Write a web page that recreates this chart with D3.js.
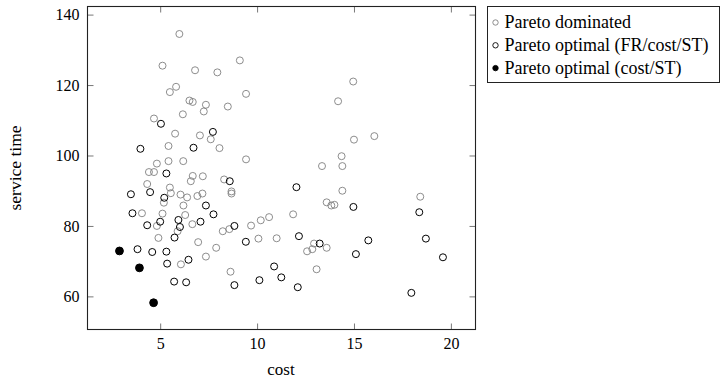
<!DOCTYPE html>
<html>
<head>
<meta charset="utf-8">
<script src="https://cdn.jsdelivr.net/npm/d3@7"></script>
<style>
  body { margin: 0; background: #fff; }
  text { font-family: "Liberation Serif", "DejaVu Serif", serif; fill: #000; }
</style>
</head>
<body>
<svg id="chart" width="727" height="381"></svg>
<script>
// Pareto dominated solutions [cost, service time]
const dominated = [
  [5.99, 134.5], [5.12, 125.5], [6.80, 124.2], [7.95, 123.6], [9.11, 127.0],
  [9.43, 117.5], [5.82, 119.5], [5.50, 118.0], [6.51, 115.6], [6.68, 115.2],
  [7.36, 114.4], [7.25, 112.5], [8.49, 113.9], [6.17, 111.7], [4.68, 110.5],
  [5.77, 106.2], [7.05, 105.7], [7.61, 104.6], [8.06, 102.1], [9.43, 98.9],
  [5.43, 102.7], [6.19, 98.4], [5.43, 98.4], [4.83, 97.7], [4.42, 95.3],
  [4.68, 95.3], [6.58, 92.7], [6.68, 94.2], [7.20, 94.1], [8.30, 93.2],
  [4.33, 91.9], [5.50, 90.9], [14.96, 121.0], [14.18, 115.4], [15.00, 104.5],
  [16.05, 105.5], [14.36, 99.8], [14.40, 97.0], [13.35, 97.0], [14.40, 90.0],
  [18.42, 88.3], [13.59, 86.7], [13.83, 85.8], [13.99, 86.0], [11.86, 83.3],
  [10.62, 82.5], [10.19, 81.6], [9.69, 80.1], [10.07, 76.4], [11.01, 76.5],
  [12.94, 75.0], [12.85, 73.4], [12.58, 72.8], [13.59, 73.8], [13.07, 67.7],
  [8.68, 89.8], [8.68, 89.2], [8.63, 67.0], [5.55, 89.3], [5.19, 86.6],
  [4.06, 83.6], [5.12, 83.5], [4.83, 80.0], [4.91, 76.6], [6.05, 88.9],
  [6.39, 88.1], [6.20, 85.8], [6.29, 83.1], [6.66, 80.5], [5.90, 78.5],
  [6.92, 88.5], [7.18, 89.2], [6.96, 75.4], [7.89, 73.8], [7.36, 71.3],
  [6.07, 69.1], [8.23, 78.5], [8.57, 79.1]
];

// Pareto optimal in FR/cost/ST
const optimalAll = [
  [5.04, 109.0], [3.98, 101.9], [6.72, 102.2], [7.72, 106.7], [5.32, 94.9],
  [8.59, 92.7], [12.03, 91.0], [14.97, 85.4], [18.37, 83.9], [8.83, 80.0],
  [9.42, 75.5], [12.16, 77.1], [13.23, 75.0], [15.74, 75.9], [18.71, 76.4],
  [15.10, 72.0], [19.59, 71.1], [10.88, 68.5], [11.25, 65.4], [10.12, 64.6],
  [12.10, 62.6], [17.96, 61.0], [8.83, 63.2], [3.49, 89.0], [4.48, 89.6],
  [5.21, 88.0], [3.57, 83.6], [4.33, 80.2], [5.00, 81.2], [5.94, 81.7],
  [6.02, 79.7], [5.74, 76.7], [7.08, 81.2], [7.36, 85.8], [7.75, 83.3],
  [3.83, 73.4], [4.59, 72.6], [5.32, 72.7], [5.36, 69.3], [6.46, 70.4],
  [5.72, 64.2], [6.34, 64.0]
];

// Pareto optimal in cost/ST only
const optimalCost = [[2.90, 72.9], [3.93, 68.1], [4.66, 58.2]];

const xTicks = [5, 10, 15, 20];
const yTicks = [60, 80, 100, 120, 140];
const legendLabels = ['Pareto dominated', 'Pareto optimal (FR/cost/ST)', 'Pareto optimal (cost/ST)'];

const plotLeft = 87.5, plotRight = 475.5, plotTop = 6.5, plotBottom = 329.5;
const svg = d3.select('#chart');

const x = d3.scaleLinear().domain([1.25, 21.27]).range([plotLeft, plotRight]);
const y = d3.scaleLinear().domain([50.6, 142.3]).range([plotBottom, plotTop]);

const tickLen = 6;

// bottom / top axes
svg.append('g').attr('transform', `translate(0,${plotBottom})`)
  .call(d3.axisBottom(x).tickValues(xTicks).tickSizeInner(-tickLen).tickSizeOuter(0).tickPadding(8));
svg.append('g').attr('transform', `translate(0,${plotTop})`)
  .call(d3.axisTop(x).tickValues(xTicks).tickSizeInner(-tickLen).tickSizeOuter(0).tickFormat(''));

// left / right axes
svg.append('g').attr('transform', `translate(${plotLeft},0)`)
  .call(d3.axisLeft(y).tickValues(yTicks).tickSizeInner(-tickLen).tickSizeOuter(0).tickPadding(8));
svg.append('g').attr('transform', `translate(${plotRight},0)`)
  .call(d3.axisRight(y).tickValues(yTicks).tickSizeInner(-tickLen).tickSizeOuter(0).tickFormat(''));

svg.selectAll('.domain').remove();
svg.selectAll('.tick line').attr('stroke', '#555').attr('stroke-width', 0.8);
svg.selectAll('.tick text')
  .style('font-family', '"Liberation Serif", serif')
  .style('font-size', '16px')
  .attr('fill', '#000');

// frame
svg.append('rect')
  .attr('x', plotLeft).attr('y', plotTop)
  .attr('width', plotRight - plotLeft).attr('height', plotBottom - plotTop)
  .attr('fill', 'none').attr('stroke', '#222').attr('stroke-width', 1.1);

// axis labels
svg.append('text')
  .attr('x', (plotLeft + plotRight) / 2 - 0.5).attr('y', 375)
  .attr('text-anchor', 'middle').style('font-size', '17px')
  .text('cost');

svg.append('text')
  .attr('transform', `translate(21,${(plotTop + plotBottom) / 2}) rotate(-90)`)
  .attr('text-anchor', 'middle').style('font-size', '17.5px')
  .text('service time');

// marks
const r = 3.5;
svg.append('g').selectAll('circle').data(dominated).join('circle')
  .attr('cx', d => x(d[0])).attr('cy', d => y(d[1])).attr('r', r)
  .attr('fill', 'none').attr('stroke', '#808080').attr('stroke-width', 0.9);

svg.append('g').selectAll('circle').data(optimalAll).join('circle')
  .attr('cx', d => x(d[0])).attr('cy', d => y(d[1])).attr('r', r)
  .attr('fill', 'none').attr('stroke', '#000').attr('stroke-width', 1);

svg.append('g').selectAll('circle').data(optimalCost).join('circle')
  .attr('cx', d => x(d[0])).attr('cy', d => y(d[1])).attr('r', r + 0.4)
  .attr('fill', '#000').attr('stroke', '#000').attr('stroke-width', 1);

// legend
const legend = svg.append('g');
legend.append('rect')
  .attr('x', 487.5).attr('y', 6.5).attr('width', 232).attr('height', 76)
  .attr('fill', '#fff').attr('stroke', '#222').attr('stroke-width', 1);

const legendStyles = [
  { fill: 'none', stroke: '#808080' },
  { fill: 'none', stroke: '#000' },
  { fill: '#000', stroke: '#000' }
];
legendLabels.forEach((label, i) => {
  const cy = 22.5 + i * 22.8;
  legend.append('circle')
    .attr('cx', 495.5).attr('cy', cy).attr('r', 2.7)
    .attr('fill', legendStyles[i].fill).attr('stroke', legendStyles[i].stroke).attr('stroke-width', 0.9);
  legend.append('text')
    .attr('x', 504.5).attr('y', cy + 5.6)
    .style('font-size', '18px')
    .text(label);
});
</script>
</body>
</html>
